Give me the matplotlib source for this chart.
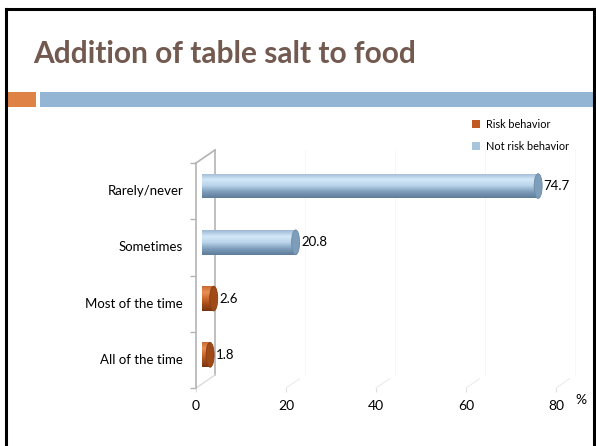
import numpy as np
import matplotlib.pyplot as plt
from matplotlib.patches import Rectangle, Ellipse
from matplotlib.colors import LinearSegmentedColormap

# Share of respondents by how often they add table salt to food
categories = ["All of the time", "Most of the time", "Sometimes", "Rarely/never"]
values = [1.8, 2.6, 20.8, 74.7]
risk = [True, True, False, False]
x_ticks = [0, 20, 40, 60, 80]

FONT = ["Lato", "DejaVu Sans"]
W, H = 596, 446


def fx(px):
    return px / W


def fy(py):
    return 1 - py / H


fig = plt.figure(figsize=(5.96, 4.46), dpi=100)
fig.patch.set_facecolor("white")

# slide frame and header strip
fig.add_artist(plt.Line2D([fx(6), fx(6)], [0, fy(9)], color="black", lw=2.2))
fig.add_artist(plt.Line2D([fx(6), fx(594)], [fy(9), fy(9)], color="black", lw=2.2))
fig.add_artist(plt.Line2D([fx(594), fx(594)], [0, fy(9)], color="black", lw=2.2))
fig.add_artist(Rectangle((fx(6), fy(107)), fx(30), fy(92) - fy(107),
                         transform=fig.transFigure, color="#df8246", lw=0))
fig.add_artist(Rectangle((fx(40), fy(107)), fx(556), fy(92) - fy(107),
                         transform=fig.transFigure, color="#94b5d3", lw=0))

fig.text(fx(33), fy(54), "Addition of table salt to food", fontsize=21.5,
         fontweight="bold", color="#735a50", family=FONT, va="center", ha="left")

ax = fig.add_axes([fx(196), fy(388), fx(578 - 196), fy(163) - fy(388)])
xmax = (578 - 196) / 4.5
ax.set_xlim(0, xmax)
ax.set_ylim(-0.5, 3.5)
for s in ["top", "right", "bottom"]:
    ax.spines[s].set_visible(False)
ax.spines["left"].set_color("#b4b4b4")
ax.spines["left"].set_linewidth(1.2)

# depth of the fake 3d box (in data units)
dx = 19 / 4.5
dy = 13 / 56.25

grey = "#b4b4b4"
ax.plot([0, dx], [3.5, 3.5 + dy], color=grey, lw=1.2, clip_on=False)
ax.plot([dx, dx], [-0.5 + dy, 3.5 + dy], color=grey, lw=1.2, clip_on=False)
ax.plot([0, dx], [-0.5, -0.5 + dy], color="#dcdcdc", lw=1.0, clip_on=False)
for t in x_ticks[1:]:
    ax.plot([t, t + dx * 0.7], [-0.5, -0.5 + dy * 0.7], color="#ececec", lw=0.8,
            clip_on=False)
    ax.plot([t + dx, t + dx], [-0.5 + dy, 3.5 + dy], color="#f6f6f6", lw=0.6,
            clip_on=False, zorder=0)

ax.set_yticks(np.arange(-0.5, 4, 1))
ax.set_yticklabels([])
ax.tick_params(axis="y", length=4, color=grey, width=1)
ax.set_xticks(x_ticks)
ax.set_xticklabels([str(t) for t in x_ticks], family=FONT, fontsize=10)
ax.tick_params(axis="x", length=3, color="#dddddd", pad=6)
for i, c in enumerate(categories):
    ax.text(-13 / 4.5, i, c, ha="right", va="center", fontsize=9.5, family=FONT,
            color="black")

blue_cmap = LinearSegmentedColormap.from_list(
    "blue", ["#9cb8d2", "#d4e8f8", "#b9d3ea", "#7d9dbb", "#5f7d99"])
orange_cmap = LinearSegmentedColormap.from_list(
    "orange", ["#c86a30", "#e89058", "#cf6a2c", "#a04a18", "#7a3410"])
grad = np.linspace(0, 1, 64).reshape(-1, 1)

left = 6 / 4.5
h = 0.44
lift = 0.09
cap_w = 8 / 4.5
for i, (v, r) in enumerate(zip(values, risk)):
    cmap = orange_cmap if r else blue_cmap
    yc = i + lift
    body = Rectangle((left, yc - h / 2), v, h, lw=0)
    ax.add_patch(body)
    body.set_visible(False)
    im = ax.imshow(grad, cmap=cmap, aspect="auto", origin="upper",
                   extent=(left, left + v, yc - h / 2, yc + h / 2), zorder=3)
    im.set_clip_path(body)
    # rounded end cap
    cap = Ellipse((left + v, yc), cap_w, h, lw=0.6,
                  facecolor=cmap(0.75), edgecolor=cmap(0.9), zorder=4)
    ax.add_patch(cap)
    ax.text(left + v + cap_w / 2 + 0.3, yc, f"{v}", ha="left", va="center",
            fontsize=9.5, family=FONT, zorder=5)

ax.set_aspect("auto")
ax.text(xmax - 0.5, -0.6, "%", ha="left", va="top", fontsize=10, family=FONT,
        transform=ax.transData, clip_on=False)
ax.set_xlim(0, xmax)
ax.set_ylim(-0.5, 3.5)

# legend
fig.add_artist(Rectangle((fx(472), fy(128)), fx(8), fy(120) - fy(128),
                         transform=fig.transFigure, color="#c15a22", lw=0))
fig.add_artist(Rectangle((fx(472), fy(150)), fx(8), fy(142) - fy(150),
                         transform=fig.transFigure, color="#a9c5dd", lw=0))
fig.text(fx(486), fy(124), "Risk behavior", fontsize=7.8, family=FONT, va="center")
fig.text(fx(486), fy(146), "Not risk behavior", fontsize=7.8, family=FONT,
         va="center")

fig.savefig("out.png", dpi=100)
